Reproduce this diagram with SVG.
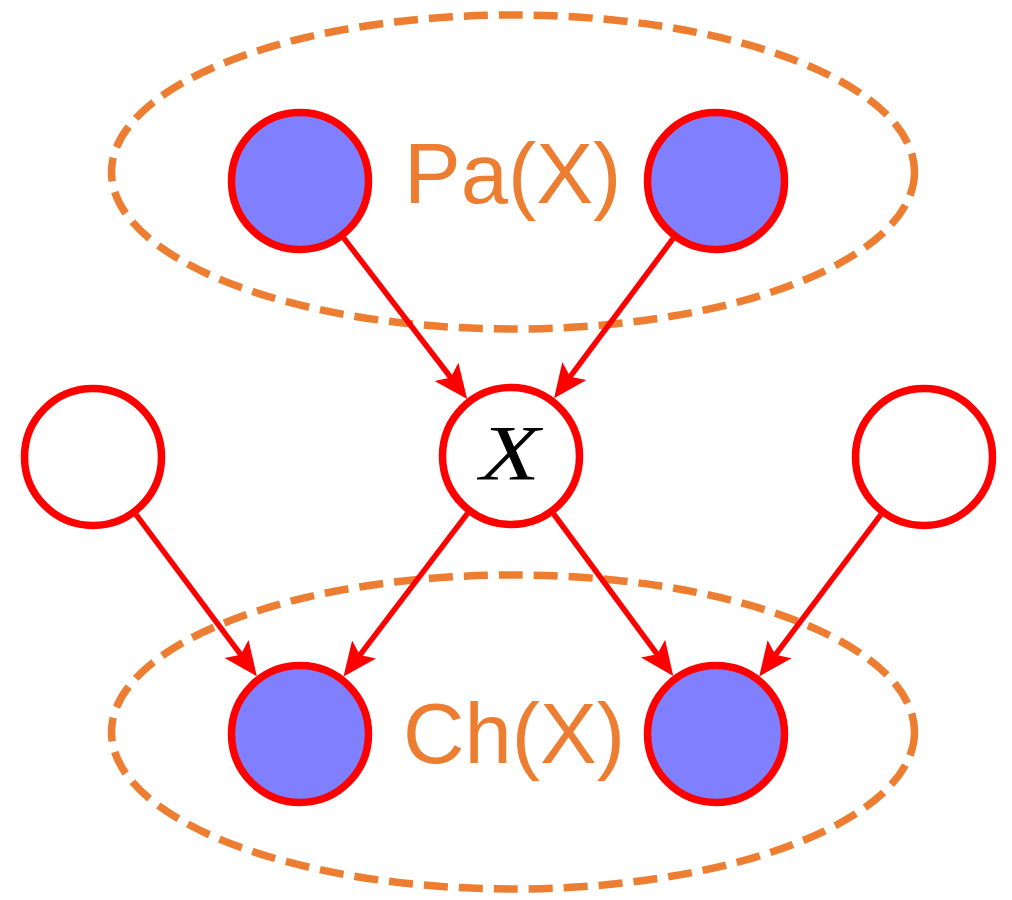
<svg xmlns="http://www.w3.org/2000/svg" width="1012" height="900" viewBox="0 0 1012 900">
<style>
.grp{fill:none;stroke:#ED7D31;stroke-width:7.5;stroke-dasharray:24 11}
.lbl{font-family:"Liberation Sans",Arial,sans-serif;font-size:85px;fill:#ED7D31}
.obs{fill:#8080FF;stroke:#FF0000;stroke-width:7.5}
.hid{fill:#FFFFFF;stroke:#FF0000;stroke-width:7.5}
.edge{fill:none;stroke:#FF0000;stroke-width:5.5}
</style>
<defs>
<marker id="ah" markerUnits="userSpaceOnUse" viewBox="0 -17 36 34" markerWidth="36" markerHeight="34" refX="12" refY="0" orient="auto">
<path d="M34,0 L0,-15 L7,0 L0,15 Z" fill="#FF0000"/>
</marker>
</defs>
<rect width="1012" height="900" fill="#FFFFFF"/>
<g id="pa-group">
<ellipse class="grp" cx="513" cy="172" rx="401.5" ry="157"/>
<text class="lbl" x="404" y="203">Pa(X)</text>
</g>
<g id="ch-group">
<ellipse class="grp" cx="513" cy="732" rx="401.5" ry="157"/>
<text class="lbl" x="403" y="763">Ch(X)</text>
</g>
<g id="connectors">
<path class="edge" marker-end="url(#ah)" d="M343.8,238.1 L453.8,381.5"/>
<path class="edge" marker-end="url(#ah)" d="M673,238.7 L567.2,380.7"/>
<path class="edge" marker-end="url(#ah)" d="M467.5,513.4 L356.8,659.1"/>
<path class="edge" marker-end="url(#ah)" d="M553.7,514 L660.2,658.3"/>
<path class="edge" marker-end="url(#ah)" d="M136.1,514.7 L243.7,658.7"/>
<path class="edge" marker-end="url(#ah)" d="M880.8,514.6 L772.4,658.8"/>
</g>
<g id="pa1"><circle class="obs" cx="300" cy="181" r="68.5"/></g>
<g id="pa2"><circle class="obs" cx="716" cy="181" r="68.5"/></g>
<g id="x"><circle class="hid" cx="511" cy="456" r="68.5"/>
<text x="480" y="479" textLength="60" lengthAdjust="spacingAndGlyphs" font-family="'Liberation Serif','Times New Roman',serif" font-style="italic" font-size="78" fill="#000000">X</text></g>
<g id="left"><circle class="hid" cx="93" cy="457" r="68.5"/></g>
<g id="right"><circle class="hid" cx="924" cy="457" r="68.5"/></g>
<g id="ch1"><circle class="obs" cx="300" cy="734" r="68.5"/></g>
<g id="ch2"><circle class="obs" cx="716" cy="734" r="68.5"/></g>
</svg>
